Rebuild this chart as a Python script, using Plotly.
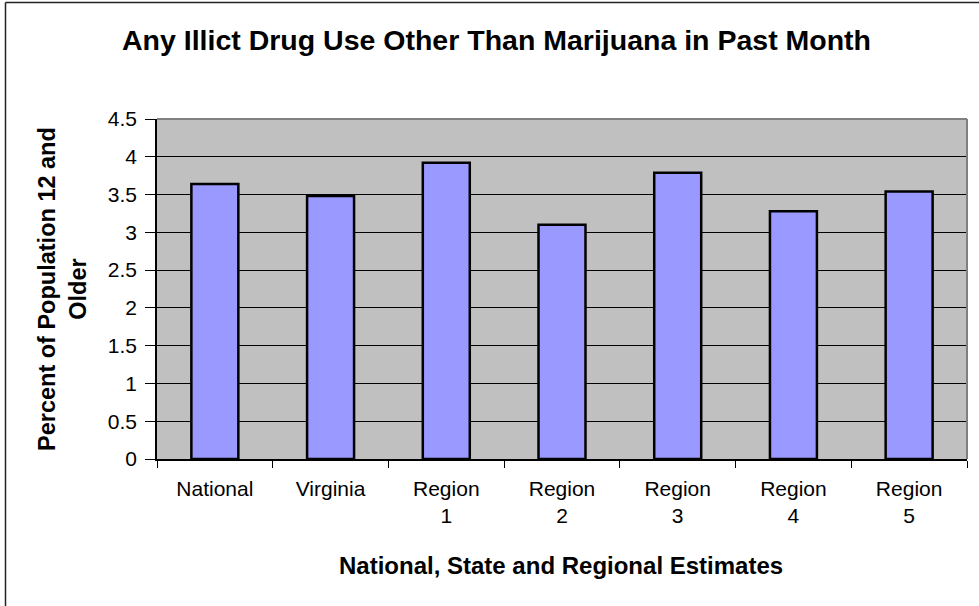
import plotly.graph_objects as go

# Past-month illicit drug use (excluding marijuana), percent of population 12+
categories = ["National", "Virginia", "Region<br>1", "Region<br>2",
              "Region<br>3", "Region<br>4", "Region<br>5"]
values = [3.64, 3.48, 3.92, 3.10, 3.79, 3.28, 3.54]
y_ticks = [0, 0.5, 1, 1.5, 2, 2.5, 3, 3.5, 4, 4.5]

W, H = 979, 606
L, R, T, B = 157, 12, 119, 147
PW, PH = W - L - R, H - T - B


def px_x(px):
    return (px - L) / PW


def px_y(py):
    return (H - B - py) / PH


FONT = "Liberation Sans, Arial, sans-serif"

fig = go.Figure(
    go.Bar(
        x=categories,
        y=values,
        marker=dict(color="#9999FF", line=dict(color="#000000", width=2.5)),
        hoverinfo="x+y",
    )
)

fig.update_layout(
    width=W,
    height=H,
    margin=dict(l=L, r=R, t=T, b=B, pad=0),
    paper_bgcolor="#FFFFFF",
    plot_bgcolor="#C0C0C0",
    bargap=0.594,
    showlegend=False,
    font=dict(family=FONT, color="#000000", size=21),
)

fig.update_xaxes(
    type="category",
    showgrid=False,
    showline=True,
    linecolor="#000000",
    linewidth=1.5,
    ticks="outside",
    tickson="boundaries",
    ticklen=7,
    tickcolor="#000000",
    tickfont=dict(size=21, family=FONT),
    ticklabelstandoff=10,
    fixedrange=True,
)

fig.update_yaxes(
    range=[0, 4.5],
    tickvals=y_ticks,
    ticktext=[f"{v:g}" for v in y_ticks],
    showgrid=True,
    gridcolor="#000000",
    gridwidth=1,
    zeroline=False,
    showline=True,
    linecolor="#000000",
    linewidth=1.5,
    ticks="outside",
    ticklen=10,
    tickcolor="#000000",
    tickfont=dict(size=21, family=FONT),
    ticklabelstandoff=4,
    fixedrange=True,
)

# Plot-area frame on the top and right edges, outer chart frame on left/top
fig.add_shape(type="line", xref="paper", yref="paper", x0=0, x1=1, y0=1, y1=1,
              line=dict(color="#808080", width=2))
fig.add_shape(type="line", xref="paper", yref="paper", x0=1, x1=1, y0=0, y1=1,
              line=dict(color="#808080", width=2))
fig.add_shape(type="line", xref="paper", yref="paper",
              x0=px_x(5.5), x1=px_x(5.5), y0=px_y(2.5), y1=px_y(640),
              line=dict(color="#222222", width=1.5))
fig.add_shape(type="line", xref="paper", yref="paper",
              x0=px_x(5.5), x1=px_x(1000), y0=px_y(2.5), y1=px_y(2.5),
              line=dict(color="#222222", width=1.5))

fig.add_annotation(
    text="<b>Any Illict Drug Use Other Than Marijuana in Past Month</b>",
    xref="paper", yref="paper", x=px_x(496), y=px_y(40),
    xanchor="center", yanchor="middle", showarrow=False,
    font=dict(size=28.5, family=FONT, color="#000000"),
)
fig.add_annotation(
    text="<b>Percent of Population 12 and<br>Older</b>",
    xref="paper", yref="paper", x=px_x(62), y=0.5,
    xanchor="center", yanchor="middle", textangle=-90, showarrow=False,
    font=dict(size=23.5, family=FONT, color="#000000"),
)
fig.add_annotation(
    text="<b>National, State and Regional Estimates</b>",
    xref="paper", yref="paper", x=px_x(561), y=px_y(565),
    xanchor="center", yanchor="middle", showarrow=False,
    font=dict(size=24, family=FONT, color="#000000"),
)

fig.write_html("out.html", config={"displayModeBar": False})
